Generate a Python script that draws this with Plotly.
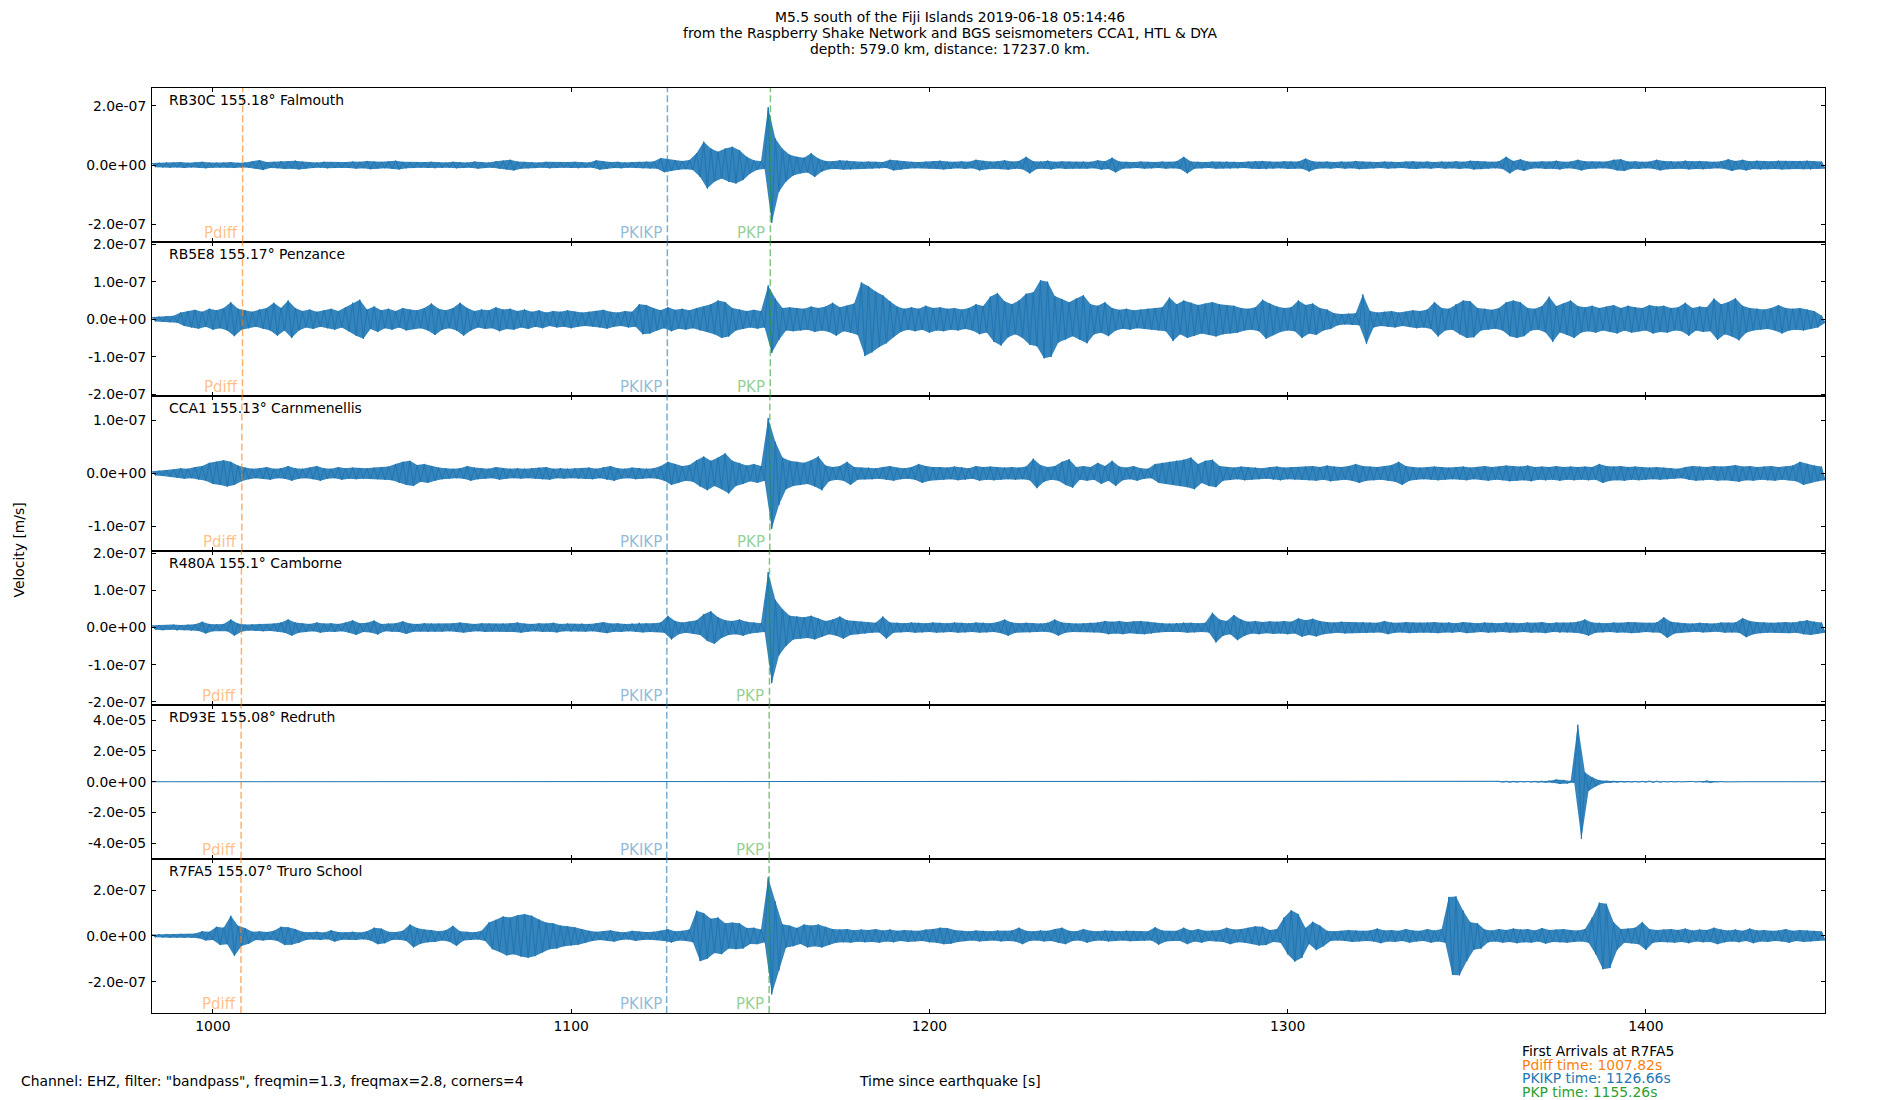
import plotly.graph_objects as go
from plotly.subplots import make_subplots

# ---- chart values ----
TITLE_LINES = [
    "M5.5 south of the Fiji Islands 2019-06-18 05:14:46",
    "from the Raspberry Shake Network and BGS seismometers CCA1, HTL & DYA",
    "depth: 579.0 km, distance: 17237.0 km.",
]
FOOTER = 'Channel: EHZ, filter: "bandpass", freqmin=1.3, freqmax=2.8, corners=4'
X_TITLE = "Time since earthquake [s]"
Y_TITLE = "Velocity [m/s]"

STATIONS = ["RB30C", "RB5E8", "CCA1", "R480A", "RD93E", "R7FA5"]
DISTANCES = ["155.18°", "155.17°", "155.13°", "155.1°", "155.08°", "155.07°"]
PLACES = ["Falmouth", "Penzance", "Carnmenellis", "Camborne", "Redruth", "Truro School"]

PHASES = ["Pdiff", "PKIKP", "PKP"]
PHASE_COLORS = ["#ff7f0e", "#1f77b4", "#2ca02c"]
# arrival times per station [s]
PDIFF_T = [1008.31, 1008.27, 1008.09, 1007.96, 1007.87, 1007.82]
PKIKP_T = [1126.87, 1126.85, 1126.77, 1126.72, 1126.68, 1126.66]
PKP_T = [1155.62, 1155.59, 1155.46, 1155.36, 1155.29, 1155.26]
REF_STATION = "R7FA5"

X_TICKS = [1000, 1100, 1200, 1300, 1400]
T_START = 983.0
T_END = 1450.0
BIN_S = 2.0  # peak amplitude read per 2 s window

# amplitude units per trace
UNITS = [1e-9, 1e-9, 1e-9, 1e-9, 1e-6, 1e-9]
Y_LIMITS = [2.6e-7, 2.05e-7, 1.46e-7, 2.08e-7, 5.0e-5, 3.36e-7]
Y_TICKS = [
    [-2e-7, 0, 2e-7],
    [-2e-7, -1e-7, 0, 1e-7, 2e-7],
    [-1e-7, 0, 1e-7],
    [-2e-7, -1e-7, 0, 1e-7, 2e-7],
    [-4e-5, -2e-5, 0, 2e-5, 4e-5],
    [-2e-7, 0, 2e-7],
]

# peak amplitudes, one per 2 s window from 983 s (rows of 20 s)
RB30C_AMP = [
    7, 8, 9, 8, 10, 8, 9, 11, 9, 8,
    9, 10, 8, 9, 12, 17, 10, 11, 13, 12,
    15, 12, 10, 9, 11, 10, 9, 10, 12, 11,
    14, 12, 11, 13, 15, 11, 10, 9, 10, 11,
    10, 9, 11, 10, 9, 12, 10, 9, 13, 15,
    18, 12, 11, 10, 9, 11, 10, 9, 10, 11,
    10, 9, 16, 13, 10, 11, 9, 10, 11, 12,
    12, 24, 20, 16, 14, 17, 40, 79, 56, 45,
    56, 62, 50, 28, 16, 13, 195, 90, 55, 35,
    28, 25, 40, 22, 14, 13, 16, 15, 12, 11,
    12, 11, 10, 18, 15, 12, 11, 10, 12, 13,
    15, 12, 11, 13, 11, 18, 14, 12, 13, 16,
    12, 14, 28, 13, 12, 15, 11, 13, 12, 11,
    12, 11, 16, 13, 25, 12, 11, 10, 12, 11,
    10, 12, 11, 13, 28, 12, 11, 10, 12, 11,
    12, 11, 10, 12, 13, 14, 12, 11, 13, 12,
    12, 22, 13, 11, 12, 10, 12, 11, 14, 12,
    11, 10, 12, 11, 10, 12, 13, 11, 12, 10,
    12, 11, 13, 11, 15, 14, 12, 11, 13, 28,
    14, 20, 12, 11, 13, 12, 15, 11, 12, 18,
    13, 12, 11, 12, 18, 20, 12, 13, 11, 12,
    18, 14, 13, 12, 15, 13, 14, 12, 11, 13,
    20, 14, 18, 13, 15, 14, 13, 15, 14, 13,
    14, 15, 13, 12,
]
RB5E8_AMP = [
    6, 7, 8, 9, 18, 22, 25, 20, 28, 24,
    30, 45, 28, 24, 20, 26, 30, 44, 30, 50,
    30, 22, 26, 20, 24, 28, 22, 32, 44, 52,
    26, 34, 24, 28, 22, 30, 26, 24, 30, 42,
    28, 24, 30, 44, 30, 22, 26, 24, 32, 26,
    28, 22, 26, 20, 24, 18, 22, 20, 24, 20,
    18, 20, 22, 25, 20, 18, 22, 20, 40, 38,
    30, 24, 32, 25, 28, 24, 30, 34, 40, 50,
    46, 30, 26, 22, 25, 22, 90, 55, 30, 32,
    30, 28, 34, 30, 34, 44, 32, 36, 42, 98,
    88, 74, 64, 48, 34, 28, 32, 28, 36, 30,
    32, 28, 30, 26, 30, 40, 35, 60, 70, 48,
    40, 50, 68, 72, 104, 100, 62, 54, 45, 55,
    64, 40, 36, 45, 30, 25, 28, 24, 26, 28,
    30, 32, 58, 40, 50, 44, 38, 42, 46, 40,
    38, 36, 30, 28, 32, 52, 42, 34, 30, 32,
    50, 38, 42, 30, 26, 16, 14, 15, 16, 66,
    22, 18, 20, 22, 18, 20, 24, 22, 26, 46,
    30, 28, 40, 50, 48, 30, 28, 25, 30, 45,
    50, 45, 30, 28, 35, 60, 35, 42, 50, 35,
    32, 36, 30, 34, 38, 30, 36, 32, 30, 38,
    34, 36, 30, 32, 44, 30, 34, 32, 55, 40,
    46, 56, 36, 30, 28, 26, 30, 38, 30, 28,
    30, 26, 22, 10,
]
CCA1_AMP = [
    4, 5, 6, 8, 10, 9, 12, 14, 20, 22,
    25, 22, 15, 11, 9, 10, 12, 9, 10, 14,
    10, 9, 11, 14, 10, 9, 12, 10, 11, 10,
    10, 11, 12, 13, 18, 22, 24, 16, 18, 14,
    11, 10, 9, 10, 14, 11, 10, 9, 12, 10,
    9, 10, 9, 10, 11, 12, 9, 10, 9, 10,
    10, 11, 9, 12, 14, 10, 9, 11, 10, 9,
    10, 14, 22, 18, 14, 16, 25, 32, 24, 30,
    38, 24, 20, 15, 18, 14, 105, 60, 30, 24,
    22, 20, 25, 32, 15, 12, 14, 22, 12, 11,
    11, 10, 12, 14, 11, 10, 12, 18, 14, 12,
    12, 11, 13, 12, 10, 14, 12, 13, 12, 11,
    12, 11, 13, 28, 16, 12, 14, 22, 27, 12,
    14, 12, 20, 14, 24, 13, 11, 14, 10, 9,
    18, 20, 22, 24, 26, 30, 18, 24, 26, 14,
    12, 11, 13, 12, 11, 10, 12, 13, 11, 12,
    12, 13, 14, 12, 15, 13, 12, 14, 18, 14,
    13, 12, 14, 16, 22, 14, 12, 11, 12, 13,
    12, 11, 12, 13, 11, 12, 14, 12, 13, 15,
    14, 13, 15, 12, 13, 12, 14, 12, 13, 12,
    13, 12, 18, 14, 13, 14, 12, 13, 12, 11,
    12, 11, 10, 9, 12, 14, 13, 12, 14, 13,
    14, 16, 13, 14, 12, 13, 14, 12, 13, 15,
    22, 18, 15, 13,
]
R480A_AMP = [
    6, 7, 6, 8, 7, 8, 9, 16, 10, 9,
    10, 22, 11, 8, 9, 10, 9, 11, 14, 22,
    14, 12, 10, 14, 11, 12, 10, 14, 20, 12,
    13, 19, 10, 11, 12, 17, 11, 10, 12, 11,
    11, 10, 12, 14, 11, 10, 12, 11, 10, 11,
    12, 14, 11, 10, 12, 11, 13, 10, 11, 10,
    11, 10, 12, 15, 11, 12, 10, 11, 13, 12,
    12, 14, 32, 18, 14, 16, 20, 36, 44, 28,
    20, 18, 22, 16, 14, 12, 150, 75, 50, 32,
    30, 28, 32, 25, 18, 22, 30, 20, 18, 16,
    14, 13, 30, 14, 13, 12, 14, 13, 12, 14,
    13, 12, 14, 13, 12, 14, 13, 12, 15, 22,
    14, 12, 13, 12, 11, 13, 22, 14, 12, 11,
    12, 13, 14, 18, 16, 18, 15, 17, 18, 16,
    13, 12, 11, 12, 14, 13, 12, 13, 40, 22,
    18, 34, 22, 16, 18, 15, 17, 16, 18, 16,
    25, 20, 24, 18, 15, 14, 16, 15, 14, 15,
    14, 13, 18, 14, 13, 15, 14, 13, 14, 15,
    13, 14, 12, 15, 13, 12, 14, 13, 12, 14,
    13, 12, 14, 13, 15, 12, 14, 13, 14, 16,
    22, 14, 13, 12, 14, 13, 15, 14, 12, 13,
    14, 28, 16, 13, 12, 11, 13, 12, 11, 14,
    13, 14, 26, 18, 15, 14, 13, 14, 15, 14,
    18, 20, 16, 14,
]
RD93E_AMP = [
    0, 0, 0, 0, 0, 0, 0, 0, 0, 0,
    0, 0, 0, 0, 0, 0, 0, 0, 0, 0,
    0, 0, 0, 0, 0, 0, 0, 0, 0, 0,
    0, 0, 0, 0, 0, 0, 0, 0, 0, 0,
    0, 0, 0, 0, 0, 0, 0, 0, 0, 0,
    0, 0, 0, 0, 0, 0, 0, 0, 0, 0,
    0, 0, 0, 0, 0, 0, 0, 0, 0, 0,
    0, 0, 0, 0, 0, 0, 0, 0, 0, 0,
    0, 0, 0, 0, 0, 0, 0, 0, 0, 0,
    0, 0, 0, 0, 0, 0, 0, 0, 0, 0,
    0, 0, 0, 0, 0, 0, 0, 0, 0, 0,
    0, 0, 0, 0, 0, 0, 0, 0, 0, 0,
    0, 0, 0, 0, 0, 0, 0, 0, 0, 0,
    0, 0, 0, 0, 0, 0, 0, 0, 0, 0,
    0, 0, 0, 0, 0, 0, 0, 0, 0, 0,
    0, 0, 0, 0, 0, 0, 0, 0, 0, 0,
    0, 0, 0, 0, 0, 0, 0, 0, 0, 0,
    0, 0, 0, 0, 0, 0, 0, 0, 0, 0,
    0, 0, 0, 0, 0, 0, 0, 0, 0.3, 0.4,
    0.3, 0.2, 0.2, 0.3, 0.4, 0.6, 1.5, 1.2, 0.5, 37,
    6, 3, 1, 0.6, 0.4, 0.3, 0.2, 0.2, 0.3, 0.5,
    0.4, 0.2, 0.2, 0.1, 0.1, 0.2, 0.2, 0.6, 0.2, 0.1,
    0, 0, 0, 0, 0, 0, 0, 0, 0, 0,
    0, 0, 0, 0,
]
R7FA5_AMP = [
    6, 7, 8, 7, 9, 8, 10, 20, 18, 40,
    36, 88, 44, 34, 18, 20, 17, 22, 40, 38,
    30, 18, 16, 18, 15, 25, 17, 16, 18, 15,
    20, 36, 32, 18, 17, 22, 50, 34, 28, 26,
    20, 25, 44, 20, 18, 16, 22, 58, 70, 85,
    80, 90, 95, 88, 72, 58, 55, 45, 42, 38,
    30, 22, 18, 20, 25, 18, 16, 22, 18, 17,
    18, 22, 29, 20, 22, 28, 110, 100, 75, 80,
    55, 58, 55, 35, 36, 28, 255, 150, 51, 45,
    35, 50, 45, 50, 40, 30, 28, 30, 25, 28,
    26, 30, 24, 28, 22, 26, 24, 22, 28, 30,
    36, 34, 26, 22, 20, 24, 22, 20, 24, 22,
    24, 36, 22, 20, 24, 22, 30, 36, 22, 20,
    30, 22, 20, 24, 22, 20, 23, 22, 21, 20,
    38, 24, 22, 22, 36, 24, 30, 22, 24, 26,
    36, 28, 30, 35, 42, 40, 26, 30, 80, 112,
    95, 35, 62, 45, 22, 20, 22, 26, 24, 22,
    24, 32, 24, 26, 22, 30, 24, 22, 30, 24,
    30, 170, 172, 110, 60, 55, 28, 24, 30, 26,
    32, 28, 30, 24, 34, 26, 28, 30, 26, 24,
    30, 80, 145, 140, 60, 30, 32, 36, 61, 30,
    26, 28, 30, 26, 32, 24, 28, 26, 36, 28,
    24, 28, 22, 32, 24, 26, 22, 24, 30, 22,
    26, 24, 22, 20,
]
AMPS = [RB30C_AMP, RB5E8_AMP, CCA1_AMP, R480A_AMP, RD93E_AMP, R7FA5_AMP]

# ---- geometry, in screenshot pixels ----
SHOT_W, SHOT_H = 1900, 1100
PAGE_PAD = 8  # default body margin of the html page
W, H = SHOT_W - PAGE_PAD, SHOT_H - PAGE_PAD
PLOT_LEFT, PLOT_TOP, PLOT_RIGHT, PLOT_BOTTOM = 152, 88, 1825, 1013
ML = PLOT_LEFT - PAGE_PAD
MT = PLOT_TOP - PAGE_PAD
PW = PLOT_RIGHT - PLOT_LEFT
PH = PLOT_BOTTOM - PLOT_TOP
MR = W - ML - PW
MB = H - MT - PH
FONT = "DejaVu Sans, Liberation Sans, sans-serif"
FS = 13.9
TRACE_COLOR = "#1f77b4"


def rgba(hex_color, alpha):
    h = hex_color.lstrip("#")
    r, g, b = int(h[0:2], 16), int(h[2:4], 16), int(h[4:6], 16)
    return f"rgba({r},{g},{b},{alpha})"


def paper_x(px):
    return (px - PLOT_LEFT) / PW


def paper_y(py):
    return (PLOT_BOTTOM - py) / PH


def trace_xy(amps, unit):
    # each window drawn as its positive then negative peak
    xs, ys = [], []
    for i, a in enumerate(amps):
        t = T_START + i * BIN_S
        xs += [t, t + BIN_S / 2]
        ys += [a * unit, -a * unit]
    return xs, ys


def envelope_xy(amps, unit):
    up_x = [T_START + i * BIN_S for i in range(len(amps))]
    lo_x = [T_START + i * BIN_S + BIN_S / 2 for i in range(len(amps))]
    xs = up_x + lo_x[::-1]
    ys = [a * unit for a in amps] + [-a * unit for a in amps[::-1]]
    return xs, ys


n = len(STATIONS)
fig = make_subplots(rows=n, cols=1, shared_xaxes=True, vertical_spacing=0)
arrivals = [PDIFF_T, PKIKP_T, PKP_T]

for k in range(n):
    row = k + 1
    ex, ey = envelope_xy(AMPS[k], UNITS[k])
    fig.add_trace(
        go.Scatter(x=ex, y=ey, mode="lines", fill="toself",
                   fillcolor=rgba(TRACE_COLOR, 0.9), line=dict(width=0),
                   hoverinfo="skip"),
        row=row, col=1,
    )
    xs, ys = trace_xy(AMPS[k], UNITS[k])
    fig.add_trace(
        go.Scatter(x=xs, y=ys, mode="lines",
                   line=dict(color=TRACE_COLOR, width=1), hoverinfo="skip"),
        row=row, col=1,
    )
    ax = "" if row == 1 else str(row)
    for p, phase in enumerate(PHASES):
        t = arrivals[p][k]
        fig.add_shape(type="line", xref=f"x{ax}", yref=f"y{ax} domain",
                      x0=t, x1=t, y0=0, y1=1,
                      line=dict(color=rgba(PHASE_COLORS[p], 0.6), width=1.5, dash="7px,3px"))
        fig.add_annotation(xref=f"x{ax}", yref=f"y{ax} domain", x=t, y=0,
                           xanchor="right", yanchor="middle", xshift=-3, yshift=9,
                           text=phase, showarrow=False,
                           font=dict(family=FONT, size=15, color=rgba(PHASE_COLORS[p], 0.5)))
    fig.add_annotation(xref=f"x{ax} domain", yref=f"y{ax} domain", x=0, y=1,
                       xanchor="left", yanchor="middle", xshift=15, yshift=-12,
                       text=f"{STATIONS[k]} {DISTANCES[k]} {PLACES[k]}", showarrow=False,
                       font=dict(family=FONT, size=FS, color="black"))
    lim = Y_LIMITS[k]
    fig.update_yaxes(
        row=row, col=1, range=[-lim, lim],
        tickvals=Y_TICKS[k], ticktext=[f"{v:.1e}" for v in Y_TICKS[k]],
        ticks="inside", ticklen=4, tickwidth=1, tickcolor="black",
        showline=True, linecolor="black", linewidth=1, mirror="ticks",
        showgrid=False, zeroline=False, ticklabelstandoff=2,
    )
    fig.update_xaxes(
        row=row, col=1, range=[T_START, T_END], tickvals=X_TICKS,
        ticks="inside", ticklen=4, tickwidth=1, tickcolor="black",
        showline=True, linecolor="black", linewidth=1, mirror="ticks",
        showgrid=False, zeroline=False, showticklabels=(row == n),
    )

# title lines
for i, line in enumerate(TITLE_LINES):
    fig.add_annotation(xref="paper", yref="paper", x=paper_x(SHOT_W / 2), y=paper_y(17 + 16 * i),
                       xanchor="center", yanchor="middle", text=line, showarrow=False,
                       font=dict(family=FONT, size=FS, color="black"))

fig.add_annotation(xref="paper", yref="paper", x=paper_x(18), y=paper_y((PLOT_TOP + PLOT_BOTTOM) / 2),
                   textangle=-90, xanchor="center", yanchor="middle", text=Y_TITLE,
                   showarrow=False, font=dict(family=FONT, size=FS, color="black"))
fig.add_annotation(xref="paper", yref="paper", x=paper_x(SHOT_W / 2), y=paper_y(1081),
                   xanchor="center", yanchor="middle", text=X_TITLE, showarrow=False,
                   font=dict(family=FONT, size=FS, color="black"))
fig.add_annotation(xref="paper", yref="paper", x=paper_x(19), y=paper_y(1081),
                   xanchor="left", yanchor="middle", text=FOOTER, showarrow=False,
                   font=dict(family=FONT, size=FS, color="black"))

ref = STATIONS.index(REF_STATION)
legend_lines = [(f"First Arrivals at {REF_STATION}", "black")]
for p, phase in enumerate(PHASES):
    legend_lines.append((f"{phase} time: {arrivals[p][ref]:.2f}s", PHASE_COLORS[p]))
for i, (txt, col) in enumerate(legend_lines):
    fig.add_annotation(xref="paper", yref="paper", x=paper_x(1520), y=paper_y(1051 + 13.5 * i),
                       xanchor="left", yanchor="middle", text=txt, showarrow=False,
                       font=dict(family=FONT, size=FS, color=col))

fig.update_layout(
    width=W, height=H,
    margin=dict(l=ML, r=MR, t=MT, b=MB),
    paper_bgcolor="white", plot_bgcolor="white",
    showlegend=False,
    font=dict(family=FONT, size=FS, color="black"),
)

fig.write_html("out.html")
